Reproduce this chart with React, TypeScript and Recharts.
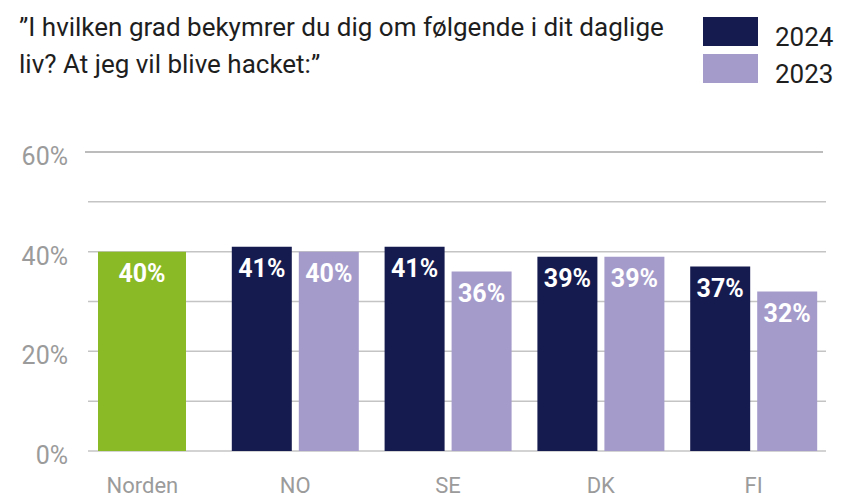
import React from "react";
import {
  BarChart,
  Bar,
  XAxis,
  YAxis,
  CartesianGrid,
  LabelList,
} from "recharts";

const categories = ["Norden", "NO", "SE", "DK", "FI"];
const nordenValues = [40, null, null, null, null];
const values2024 = [null, 41, 41, 39, 37];
const values2023 = [null, 40, 36, 39, 32];
const yTicks = [0, 10, 20, 30, 40, 50, 60];
const labeledTicks = [0, 20, 40, 60];

const titleLines = [
  "\u201dI hvilken grad bekymrer du dig om følgende i dit daglige",
  "liv? At jeg vil blive hacket:\u201d",
];

const GREEN = "#8aba25";
const NAVY = "#161b4f";
const LAVENDER = "#a59bcb";
const GRAY = "#9b9b9b";
const FONT = "Roboto, sans-serif";

const legendItems = [
  { label: "2024", color: NAVY },
  { label: "2023", color: LAVENDER },
];

const data = categories.map((name, i) => ({
  name,
  norden: nordenValues[i],
  y2024: values2024[i],
  y2023: values2023[i],
}));

const pct = (v: any) => (v == null ? "" : `${v}%`);

const YTick = (props: any) => {
  const { x, y, payload } = props;
  if (!labeledTicks.includes(payload.value)) return null;
  return (
    <text
      x={x + 2}
      y={y + 4}
      dy="0.355em"
      textAnchor="end"
      fill={GRAY}
      fontSize={25}
      fontFamily={FONT}
    >
      {payload.value}%
    </text>
  );
};

// top gridline is a bit darker and starts a little further left
const GridLine = (props: any) => {
  const { x1, x2, y1, y2 } = props;
  const top = y1 < 160;
  return (
    <line
      x1={top ? x1 - 3 : x1}
      x2={top ? x2 - 3 : x2}
      y1={y1}
      y2={y2}
      stroke={top ? "#a6a6a6" : "#c4c4c4"}
      strokeWidth={1.5}
    />
  );
};

const valueLabel = {
  position: "insideTop" as const,
  offset: 13,
  fill: "#ffffff",
  fontSize: 25,
  fontWeight: 700,
  fontFamily: FONT,
  formatter: pct,
};

export default function App() {
  return (
    <div
      style={{
        position: "absolute",
        left: 0,
        top: 0,
        width: 844,
        height: 499,
        background: "#fff",
        fontFamily: FONT,
        overflow: "hidden",
      }}
    >
      <div
        style={{
          position: "absolute",
          left: 19,
          top: 9,
          fontSize: 26,
          lineHeight: "37px",
          color: "#1e1e1e",
          whiteSpace: "nowrap",
        }}
      >
        {titleLines.map((l) => (
          <div key={l}>{l}</div>
        ))}
      </div>

      <div style={{ position: "absolute", left: 703, top: 17 }}>
        {legendItems.map((it) => (
          <div
            key={it.label}
            style={{ display: "flex", alignItems: "flex-start", height: 37 }}
          >
            <div style={{ width: 55, height: 29, background: it.color }} />
            <span
              style={{
                marginLeft: 17,
                fontSize: 26,
                color: "#1e1e1e",
                lineHeight: "29px",
                paddingTop: 6,
              }}
            >
              {it.label}
            </span>
          </div>
        ))}
      </div>

      <div style={{ position: "absolute", left: 0, top: 0 }}>
        <BarChart
          width={844}
          height={499}
          data={data}
          margin={{ top: 152, right: 14, bottom: 0, left: 0 }}
          barGap={7}
        >
          <CartesianGrid
            vertical={false}
            x={88}
            width={738}
            horizontal={GridLine}
          />
          <XAxis
            xAxisId="main"
            dataKey="name"
            axisLine={false}
            tickLine={false}
            tickSize={0}
            tickMargin={26}
            height={48}
            interval={0}
            tick={{ fill: GRAY, fontSize: 22, fontFamily: FONT }}
          />
          <XAxis xAxisId="norden" dataKey="name" hide />
          <YAxis
            domain={[0, 60]}
            ticks={yTicks}
            interval={0}
            width={66}
            axisLine={false}
            tickLine={false}
            tickSize={0}
            tickMargin={0}
            tick={<YTick />}
          />
          <Bar
            xAxisId="norden"
            dataKey="norden"
            fill={GREEN}
            barSize={88}
            isAnimationActive={false}
          >
            <LabelList dataKey="norden" {...valueLabel} />
          </Bar>
          <Bar
            xAxisId="main"
            dataKey="y2024"
            fill={NAVY}
            barSize={60}
            isAnimationActive={false}
          >
            <LabelList dataKey="y2024" {...valueLabel} />
          </Bar>
          <Bar
            xAxisId="main"
            dataKey="y2023"
            fill={LAVENDER}
            barSize={60}
            isAnimationActive={false}
          >
            <LabelList dataKey="y2023" {...valueLabel} />
          </Bar>
        </BarChart>
      </div>
    </div>
  );
}
